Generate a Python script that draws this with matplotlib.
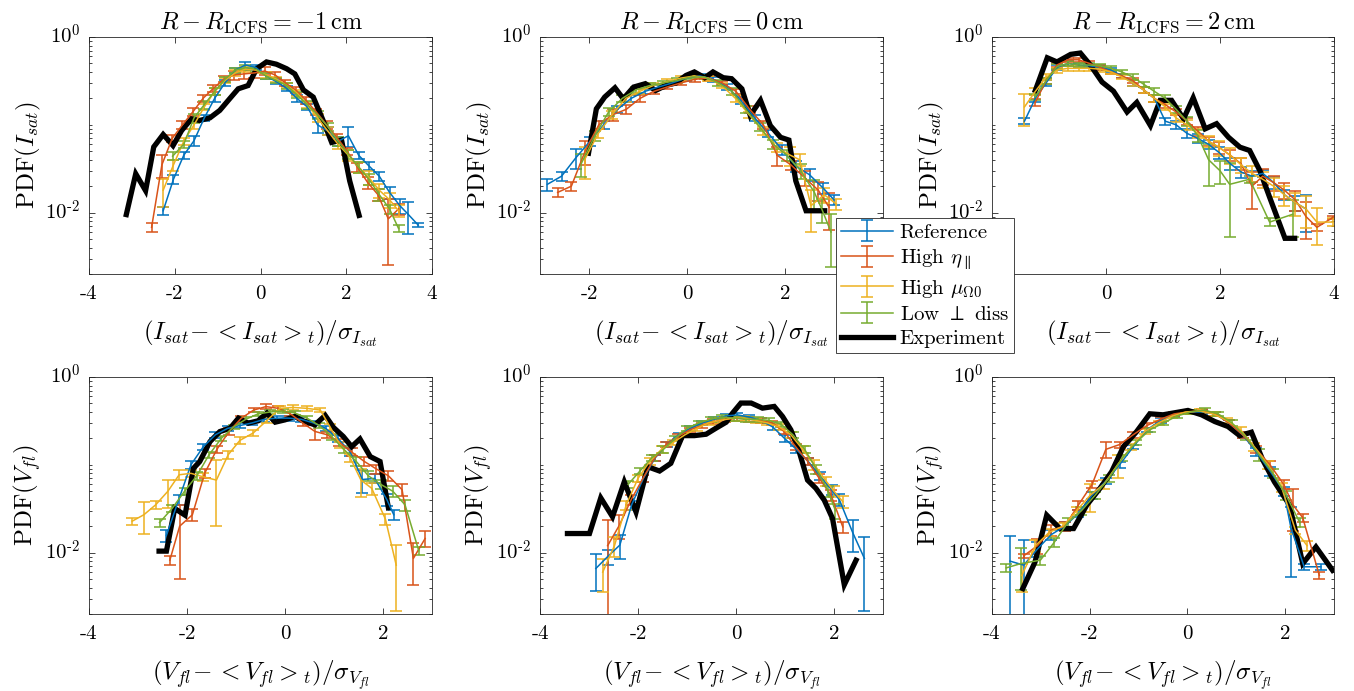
import numpy as np
import matplotlib
matplotlib.use('Agg')
import matplotlib.pyplot as plt
from matplotlib.ticker import FixedLocator, FixedFormatter, NullFormatter
from matplotlib.transforms import ScaledTranslation

plt.rcParams['font.family'] = 'cmr10'
plt.rcParams['mathtext.fontset'] = 'cm'
plt.rcParams['axes.formatter.use_mathtext'] = True

series_names = ['Reference', r'High $\eta_\parallel$', r'High $\mu_{\Omega0}$', r'Low $\perp$ diss']
exp_name = 'Experiment'
colors = ['#0072BD', '#D95319', '#EDB120', '#77AC30']
titles = [r'$R-R_{\mathrm{LCFS}}=-1\,\mathrm{cm}$', r'$R-R_{\mathrm{LCFS}}=0\,\mathrm{cm}$', r'$R-R_{\mathrm{LCFS}}=2\,\mathrm{cm}$']
xlabel_top = r'$(I_{sat}\!-<I_{sat}>_t)/\sigma_{I_{sat}}$'
xlabel_bot = r'$(V_{fl}\!-<V_{fl}>_t)/\sigma_{V_{fl}}$'
ylabel_top = r'PDF$(I_{sat})$'
ylabel_bot = r'PDF$(V_{fl})$'
xlims = [(-4, 4), (-3, 4), (-2, 4), (-4, 3), (-4, 3), (-4, 3)]

# ---------------- Panel 1: I_sat, R-R_LCFS = -1 cm ----------------
p1_exp_x = [-3.13, -2.91, -2.68, -2.49, -2.27, -2.04, -1.84, -1.61, -1.42, -1.18, -0.95, -0.72, -0.52, -0.29, -0.09, 0.14, 0.37, 0.61, 0.80, 1.00, 1.23, 1.46, 1.66, 1.89, 2.08, 2.30]
p1_exp_y = [0.0095, 0.0277, 0.0178, 0.056, 0.0776, 0.058, 0.086, 0.117, 0.112, 0.12, 0.146, 0.198, 0.257, 0.28, 0.435, 0.52, 0.49, 0.435, 0.38, 0.25, 0.207, 0.112, 0.063, 0.067, 0.023, 0.0093]
p1_ref_x = [-2.27, -2.03, -1.79, -1.55, -1.31, -1.07, -0.83, -0.59, -0.35, -0.11, 0.13, 0.37, 0.61, 0.85, 1.09, 1.33, 1.57, 1.81, 2.05, 2.29, 2.53, 2.77, 3.01, 3.25, 3.45, 3.68]
p1_ref_y = [0.0105, 0.024, 0.045, 0.066, 0.12, 0.2, 0.3, 0.42, 0.48, 0.45, 0.36, 0.31, 0.26, 0.2, 0.16, 0.1, 0.085, 0.065, 0.075, 0.045, 0.034, 0.026, 0.017, 0.012, 0.0095, 0.0072]
p1_ref_e = [0.1, 0.12, 0.1, 0.12, 0.08, 0.08, 0.08, 0.07, 0.07, 0.07, 0.07, 0.07, 0.07, 0.08, 0.08, 0.2, 0.1, 0.12, 0.25, 0.1, 0.1, 0.12, 0.15, 0.2, 0.4, 0.05]
p1_eta_x = [-2.54, -2.3, -2.06, -1.82, -1.58, -1.34, -1.1, -0.86, -0.62, -0.38, -0.14, 0.1, 0.34, 0.58, 0.82, 1.06, 1.3, 1.54, 1.78, 2.02, 2.26, 2.5, 2.74, 2.98, 3.22]
p1_eta_y = [0.0068, 0.035, 0.07, 0.1, 0.14, 0.2, 0.26, 0.33, 0.37, 0.38, 0.39, 0.41, 0.37, 0.3, 0.25, 0.19, 0.14, 0.1, 0.072, 0.05, 0.033, 0.022, 0.016, 0.0085, 0.011]
p1_eta_e = [0.12, 0.3, 0.1, 0.1, 0.1, 0.1, 0.08, 0.08, 0.12, 0.12, 0.12, 0.1, 0.08, 0.08, 0.08, 0.08, 0.08, 0.1, 0.1, 0.1, 0.12, 0.15, 0.15, 0.7, 0.15]
p1_mu_x = [-2.27, -2.03, -1.79, -1.55, -1.31, -1.07, -0.83, -0.59, -0.35, -0.11, 0.13, 0.37, 0.61, 0.85, 1.09, 1.33, 1.57, 1.81, 2.05, 2.29, 2.53, 2.77, 3.01, 3.22]
p1_mu_y = [0.018, 0.035, 0.065, 0.1, 0.16, 0.24, 0.32, 0.39, 0.43, 0.42, 0.37, 0.33, 0.28, 0.23, 0.17, 0.12, 0.085, 0.06, 0.045, 0.033, 0.025, 0.018, 0.014, 0.0105]
p1_mu_e = [0.35, 0.15, 0.1, 0.1, 0.08, 0.08, 0.07, 0.07, 0.07, 0.07, 0.07, 0.07, 0.07, 0.08, 0.08, 0.1, 0.1, 0.12, 0.15, 0.15, 0.18, 0.18, 0.2, 0.15]
p1_low_x = [-2.05, -1.79, -1.55, -1.31, -1.07, -0.83, -0.59, -0.35, -0.11, 0.13, 0.37, 0.61, 0.85, 1.09, 1.33, 1.57, 1.81, 2.05, 2.29, 2.53, 2.77, 3.01, 3.22]
p1_low_y = [0.044, 0.06, 0.12, 0.17, 0.24, 0.33, 0.42, 0.45, 0.43, 0.36, 0.32, 0.28, 0.22, 0.17, 0.13, 0.095, 0.065, 0.046, 0.033, 0.024, 0.016, 0.011, 0.0066]
p1_low_e = [0.1, 0.1, 0.12, 0.1, 0.08, 0.07, 0.07, 0.07, 0.07, 0.07, 0.07, 0.08, 0.08, 0.1, 0.1, 0.1, 0.12, 0.12, 0.15, 0.15, 0.15, 0.12, 0.1]

# ---------------- Panel 2: I_sat, R-R_LCFS = 0 cm ----------------
p2_exp_x = [-2.01, -1.85, -1.68, -1.47, -1.30, -1.09, -0.85, -0.64, -0.43, -0.23, -0.02, 0.15, 0.36, 0.53, 0.74, 0.91, 1.12, 1.29, 1.50, 1.70, 1.91, 2.08, 2.22, 2.43, 2.81]
p2_exp_y = [0.0475, 0.152, 0.207, 0.264, 0.198, 0.269, 0.294, 0.246, 0.281, 0.299, 0.365, 0.40, 0.344, 0.40, 0.344, 0.335, 0.257, 0.128, 0.19, 0.098, 0.072, 0.067, 0.023, 0.0105, 0.0105]
p2_ref_x = [-2.85, -2.56, -2.27, -1.98, -1.7, -1.42, -1.14, -0.86, -0.58, -0.3, -0.02, 0.26, 0.54, 0.82, 1.1, 1.38, 1.66, 1.94, 2.22, 2.5, 2.78, 3.0]
p2_ref_y = [0.021, 0.026, 0.042, 0.065, 0.1, 0.15, 0.2, 0.24, 0.27, 0.3, 0.34, 0.36, 0.33, 0.27, 0.19, 0.12, 0.08, 0.052, 0.034, 0.027, 0.019, 0.014]
p2_ref_e = [0.15, 0.12, 0.25, 0.12, 0.1, 0.08, 0.08, 0.07, 0.06, 0.06, 0.06, 0.06, 0.06, 0.07, 0.08, 0.08, 0.1, 0.12, 0.15, 0.15, 0.15, 0.12]
p2_eta_x = [-2.64, -2.36, -2.08, -1.8, -1.52, -1.24, -0.96, -0.68, -0.4, -0.12, 0.16, 0.44, 0.72, 1.0, 1.28, 1.56, 1.84, 2.12, 2.4, 2.68, 2.9]
p2_eta_y = [0.017, 0.02, 0.05, 0.1, 0.13, 0.15, 0.2, 0.24, 0.27, 0.3, 0.33, 0.34, 0.3, 0.24, 0.15, 0.1, 0.045, 0.035, 0.025, 0.018, 0.0115]
p2_eta_e = [0.12, 0.12, 0.3, 0.1, 0.15, 0.12, 0.08, 0.07, 0.06, 0.06, 0.06, 0.06, 0.06, 0.07, 0.08, 0.1, 0.25, 0.12, 0.2, 0.25, 0.45]
p2_mu_x = [-2.09, -1.81, -1.53, -1.25, -0.97, -0.69, -0.41, -0.13, 0.15, 0.43, 0.71, 0.99, 1.27, 1.55, 1.83, 2.11, 2.3, 2.53, 2.8, 3.05]
p2_mu_y = [0.04, 0.08, 0.13, 0.2, 0.24, 0.28, 0.31, 0.34, 0.36, 0.34, 0.28, 0.2, 0.13, 0.085, 0.055, 0.045, 0.04, 0.012, 0.016, 0.0125]
p2_mu_e = [0.4, 0.12, 0.1, 0.08, 0.07, 0.06, 0.06, 0.06, 0.06, 0.06, 0.07, 0.08, 0.08, 0.1, 0.12, 0.25, 0.15, 0.5, 0.2, 0.15]
p2_low_x = [-2.16, -1.88, -1.6, -1.32, -1.04, -0.76, -0.48, -0.2, 0.08, 0.36, 0.64, 0.92, 1.2, 1.48, 1.76, 2.04, 2.32, 2.6, 2.75, 2.94]
p2_low_y = [0.036, 0.075, 0.14, 0.2, 0.25, 0.28, 0.3, 0.32, 0.35, 0.35, 0.3, 0.24, 0.15, 0.095, 0.06, 0.045, 0.03, 0.017, 0.011, 0.006]
p2_low_e = [0.3, 0.12, 0.1, 0.08, 0.07, 0.06, 0.06, 0.06, 0.06, 0.06, 0.07, 0.08, 0.08, 0.1, 0.12, 0.15, 0.2, 0.4, 0.3, 0.6]

# ---------------- Panel 3: I_sat, R-R_LCFS = 2 cm ----------------
p3_exp_x = [-1.24, -1.03, -0.86, -0.62, -0.45, -0.27, -0.07, 0.13, 0.37, 0.54, 0.78, 0.95, 1.15, 1.36, 1.53, 1.74, 1.94, 2.15, 2.35, 2.52, 2.70, 2.87, 3.14, 3.31]
p3_exp_y = [0.246, 0.58, 0.52, 0.634, 0.657, 0.475, 0.307, 0.242, 0.14, 0.18, 0.098, 0.19, 0.19, 0.117, 0.203, 0.09, 0.103, 0.072, 0.0556, 0.051, 0.030, 0.015, 0.0051, 0.0051]
p3_ref_x = [-1.43, -1.24, -1.05, -0.86, -0.67, -0.48, -0.29, -0.1, 0.09, 0.28, 0.47, 0.66, 0.85, 1.04, 1.23, 1.42, 1.61, 1.8, 1.99, 2.18, 2.37, 2.56, 2.75, 2.94, 3.13, 3.32, 3.51]
p3_ref_y = [0.11, 0.2, 0.3, 0.45, 0.5, 0.48, 0.47, 0.45, 0.42, 0.36, 0.3, 0.25, 0.2, 0.11, 0.1, 0.08, 0.07, 0.06, 0.048, 0.036, 0.029, 0.026, 0.028, 0.022, 0.016, 0.013, 0.011]
p3_ref_e = [0.08, 0.08, 0.07, 0.06, 0.06, 0.06, 0.06, 0.06, 0.06, 0.06, 0.07, 0.07, 0.08, 0.1, 0.1, 0.12, 0.12, 0.12, 0.15, 0.15, 0.15, 0.15, 0.1, 0.15, 0.12, 0.2, 0.45]
p3_eta_x = [-1.24, -1.05, -0.86, -0.67, -0.48, -0.29, -0.1, 0.09, 0.28, 0.47, 0.66, 0.85, 1.04, 1.23, 1.42, 1.61, 1.8, 1.99, 2.18, 2.37, 2.56, 2.75, 2.94, 3.13, 3.32, 3.51, 3.7, 3.98]
p3_eta_y = [0.18, 0.32, 0.48, 0.55, 0.55, 0.5, 0.45, 0.4, 0.36, 0.32, 0.25, 0.2, 0.17, 0.14, 0.11, 0.085, 0.065, 0.055, 0.045, 0.036, 0.02, 0.026, 0.022, 0.018, 0.014, 0.009, 0.0068, 0.0088]
p3_eta_e = [0.08, 0.08, 0.06, 0.06, 0.06, 0.06, 0.06, 0.06, 0.06, 0.07, 0.07, 0.08, 0.08, 0.08, 0.1, 0.12, 0.12, 0.15, 0.15, 0.15, 0.45, 0.2, 0.2, 0.2, 0.25, 0.45, 0.1, 0.05]
p3_mu_x = [-1.43, -1.24, -1.05, -0.86, -0.67, -0.48, -0.29, -0.1, 0.09, 0.28, 0.47, 0.66, 0.85, 1.04, 1.23, 1.42, 1.61, 1.8, 1.99, 2.18, 2.37, 2.56, 2.75, 2.94, 3.13, 3.32, 3.51, 3.7, 3.98]
p3_mu_y = [0.16, 0.24, 0.35, 0.42, 0.44, 0.44, 0.44, 0.43, 0.4, 0.35, 0.3, 0.25, 0.2, 0.16, 0.12, 0.1, 0.08, 0.065, 0.055, 0.045, 0.035, 0.028, 0.024, 0.02, 0.016, 0.013, 0.011, 0.0078, 0.0078]
p3_mu_e = [0.4, 0.1, 0.08, 0.07, 0.06, 0.06, 0.06, 0.06, 0.06, 0.06, 0.07, 0.07, 0.08, 0.08, 0.1, 0.12, 0.12, 0.15, 0.2, 0.2, 0.2, 0.2, 0.2, 0.25, 0.25, 0.3, 0.4, 0.45, 0.1]
p3_low_x = [-1.24, -1.05, -0.86, -0.67, -0.48, -0.29, -0.1, 0.09, 0.28, 0.47, 0.66, 0.85, 1.04, 1.23, 1.42, 1.61, 1.8, 2.0, 2.17, 2.52, 2.87, 3.28]
p3_low_y = [0.21, 0.32, 0.46, 0.5, 0.48, 0.48, 0.47, 0.44, 0.4, 0.35, 0.29, 0.24, 0.2, 0.15, 0.11, 0.075, 0.04, 0.03, 0.021, 0.024, 0.0078, 0.0096]
p3_low_e = [0.08, 0.08, 0.06, 0.06, 0.06, 0.06, 0.06, 0.06, 0.06, 0.07, 0.07, 0.08, 0.08, 0.1, 0.12, 0.15, 0.5, 0.3, 0.75, 0.1, 0.1, 0.45]

# ---------------- Panel 4: V_fl, R-R_LCFS = -1 cm ----------------
p4_exp_x = [-2.57, -2.42, -2.25, -2.04, -1.87, -1.74, -1.53, -1.33, -1.12, -0.95, -0.75, -0.55, -0.37, -0.20, 0.0, 0.20, 0.37, 0.61, 0.82, 0.99, 1.19, 1.36, 1.53, 1.74, 1.94, 2.11]
p4_exp_y = [0.0104, 0.0104, 0.0318, 0.0267, 0.091, 0.109, 0.184, 0.239, 0.261, 0.34, 0.298, 0.317, 0.388, 0.306, 0.325, 0.355, 0.317, 0.285, 0.365, 0.266, 0.21, 0.161, 0.197, 0.124, 0.109, 0.0324]
p4_ref_x = [-2.42, -2.17, -1.92, -1.67, -1.42, -1.17, -0.92, -0.67, -0.42, -0.17, 0.08, 0.33, 0.58, 0.83, 1.08, 1.33, 1.58, 1.83, 2.08, 2.22]
p4_ref_y = [0.0157, 0.04, 0.1, 0.16, 0.22, 0.26, 0.28, 0.3, 0.33, 0.34, 0.34, 0.33, 0.3, 0.26, 0.2, 0.14, 0.068, 0.07, 0.04, 0.027]
p4_ref_e = [0.15, 0.12, 0.1, 0.08, 0.07, 0.06, 0.06, 0.06, 0.06, 0.06, 0.06, 0.06, 0.06, 0.07, 0.08, 0.1, 0.3, 0.12, 0.15, 0.12]
p4_eta_x = [-2.35, -2.15, -1.89, -1.64, -1.39, -1.14, -0.89, -0.64, -0.39, -0.14, 0.11, 0.36, 0.61, 0.86, 1.11, 1.36, 1.61, 1.86, 2.11, 2.39, 2.62, 2.86]
p4_eta_y = [0.0082, 0.02, 0.027, 0.08, 0.15, 0.24, 0.34, 0.42, 0.46, 0.44, 0.38, 0.3, 0.24, 0.22, 0.18, 0.14, 0.11, 0.09, 0.075, 0.052, 0.0086, 0.0145]
p4_eta_e = [0.12, 0.75, 0.15, 0.12, 0.1, 0.08, 0.07, 0.06, 0.06, 0.06, 0.06, 0.07, 0.2, 0.08, 0.1, 0.1, 0.12, 0.12, 0.12, 0.15, 0.5, 0.2]
p4_mu_x = [-3.12, -2.88, -2.64, -2.39, -2.16, -1.92, -1.67, -1.4, -1.16, -0.92, -0.65, -0.37, -0.1, 0.17, 0.44, 0.72, 0.92, 1.12, 1.33, 1.55, 1.77, 2.05, 2.27]
p4_mu_y = [0.0228, 0.027, 0.035, 0.05, 0.077, 0.08, 0.073, 0.067, 0.13, 0.19, 0.23, 0.32, 0.44, 0.45, 0.44, 0.42, 0.27, 0.17, 0.12, 0.067, 0.054, 0.024, 0.0072]
p4_mu_e = [0.1, 0.4, 0.1, 0.35, 0.12, 0.1, 0.1, 0.7, 0.1, 0.08, 0.07, 0.06, 0.06, 0.06, 0.06, 0.06, 0.07, 0.08, 0.1, 0.35, 0.15, 0.15, 0.7]
p4_low_x = [-2.56, -2.3, -2.05, -1.8, -1.55, -1.3, -1.05, -0.8, -0.55, -0.3, -0.05, 0.2, 0.45, 0.7, 0.95, 1.2, 1.45, 1.7, 1.95, 2.2, 2.45, 2.73]
p4_low_y = [0.022, 0.032, 0.05, 0.075, 0.13, 0.2, 0.27, 0.33, 0.38, 0.4, 0.41, 0.39, 0.34, 0.28, 0.21, 0.15, 0.11, 0.075, 0.06, 0.05, 0.035, 0.0105]
p4_low_e = [0.1, 0.1, 0.1, 0.1, 0.08, 0.07, 0.06, 0.06, 0.06, 0.06, 0.06, 0.06, 0.06, 0.07, 0.08, 0.1, 0.12, 0.12, 0.12, 0.15, 0.15, 0.1]

# ---------------- Panel 5: V_fl, R-R_LCFS = 0 cm ----------------
p5_exp_x = [-3.44, -2.99, -2.76, -2.52, -2.28, -2.04, -1.80, -1.56, -1.33, -1.09, -0.85, -0.61, -0.41, -0.20, -0.07, 0.10, 0.31, 0.54, 0.78, 0.95, 1.12, 1.29, 1.46, 1.63, 1.80, 1.97, 2.21, 2.45]
p5_exp_y = [0.0165, 0.0165, 0.042, 0.0256, 0.064, 0.029, 0.095, 0.085, 0.104, 0.215, 0.215, 0.223, 0.261, 0.306, 0.388, 0.505, 0.505, 0.442, 0.462, 0.355, 0.25, 0.141, 0.067, 0.054, 0.0397, 0.0245, 0.0043, 0.0082]
p5_ref_x = [-2.86, -2.62, -2.37, -2.13, -1.89, -1.65, -1.41, -1.17, -0.93, -0.69, -0.45, -0.21, 0.03, 0.27, 0.51, 0.75, 0.99, 1.23, 1.47, 1.71, 1.95, 2.11, 2.38, 2.62]
p5_ref_y = [0.0066, 0.009, 0.0122, 0.035, 0.07, 0.12, 0.17, 0.22, 0.26, 0.3, 0.33, 0.36, 0.37, 0.35, 0.32, 0.27, 0.2, 0.15, 0.11, 0.075, 0.052, 0.04, 0.017, 0.0086]
p5_ref_e = [0.45, 0.2, 0.3, 0.12, 0.1, 0.08, 0.07, 0.06, 0.06, 0.06, 0.06, 0.06, 0.06, 0.06, 0.06, 0.07, 0.08, 0.08, 0.1, 0.1, 0.12, 0.15, 0.4, 0.75]
p5_eta_x = [-2.62, -2.38, -2.14, -1.9, -1.66, -1.42, -1.18, -0.94, -0.7, -0.46, -0.22, 0.02, 0.26, 0.5, 0.74, 0.98, 1.22, 1.46, 1.7, 1.94, 2.18]
p5_eta_y = [0.012, 0.0205, 0.04, 0.07, 0.12, 0.17, 0.21, 0.25, 0.28, 0.31, 0.33, 0.34, 0.33, 0.32, 0.3, 0.24, 0.16, 0.11, 0.07, 0.045, 0.0196]
p5_eta_e = [0.95, 0.3, 0.12, 0.1, 0.08, 0.07, 0.06, 0.06, 0.06, 0.06, 0.06, 0.06, 0.06, 0.06, 0.06, 0.07, 0.08, 0.1, 0.12, 0.15, 0.15]
p5_mu_x = [-2.72, -2.48, -2.24, -2.0, -1.76, -1.52, -1.28, -1.04, -0.8, -0.56, -0.32, -0.08, 0.16, 0.4, 0.64, 0.88, 1.12, 1.36, 1.6, 1.84, 2.0, 2.18]
p5_mu_y = [0.006, 0.012, 0.035, 0.07, 0.11, 0.15, 0.18, 0.22, 0.26, 0.3, 0.32, 0.34, 0.34, 0.32, 0.3, 0.27, 0.22, 0.15, 0.1, 0.065, 0.05, 0.038]
p5_mu_e = [0.4, 0.25, 0.12, 0.1, 0.1, 0.08, 0.07, 0.06, 0.06, 0.06, 0.06, 0.06, 0.06, 0.06, 0.06, 0.07, 0.08, 0.1, 0.12, 0.12, 0.15, 0.15]
p5_low_x = [-2.2, -1.96, -1.72, -1.48, -1.24, -1.0, -0.76, -0.52, -0.28, -0.04, 0.2, 0.44, 0.68, 0.92, 1.16, 1.4, 1.64, 1.88, 2.03]
p5_low_y = [0.06, 0.085, 0.12, 0.15, 0.2, 0.26, 0.3, 0.33, 0.35, 0.34, 0.33, 0.33, 0.32, 0.29, 0.22, 0.15, 0.09, 0.05, 0.03]
p5_low_e = [0.1, 0.08, 0.08, 0.08, 0.07, 0.06, 0.06, 0.06, 0.06, 0.06, 0.06, 0.06, 0.07, 0.07, 0.08, 0.1, 0.12, 0.15, 0.2]

# ---------------- Panel 6: V_fl, R-R_LCFS = 2 cm ----------------
p6_exp_x = [-3.37, -3.12, -2.88, -2.61, -2.33, -2.06, -1.79, -1.55, -1.31, -1.04, -0.77, -0.50, -0.22, 0.01, 0.29, 0.56, 0.83, 1.07, 1.31, 1.54, 1.78, 2.09, 2.36, 2.63, 2.97]
p6_exp_y = [0.0039, 0.0078, 0.0267, 0.0188, 0.0188, 0.0348, 0.054, 0.0836, 0.161, 0.239, 0.381, 0.371, 0.395, 0.416, 0.371, 0.311, 0.273, 0.215, 0.235, 0.114, 0.064, 0.0348, 0.0075, 0.0116, 0.0063]
p6_ref_x = [-3.63, -3.35, -3.07, -2.79, -2.51, -2.23, -1.95, -1.67, -1.39, -1.11, -0.83, -0.55, -0.27, 0.01, 0.29, 0.57, 0.85, 1.13, 1.41, 1.69, 1.97, 2.12, 2.39, 2.73]
p6_ref_y = [0.008, 0.0072, 0.011, 0.016, 0.02, 0.028, 0.045, 0.065, 0.1, 0.16, 0.25, 0.32, 0.37, 0.4, 0.4, 0.38, 0.3, 0.22, 0.14, 0.085, 0.05, 0.019, 0.0069, 0.0069]
p6_ref_e = [0.95, 0.95, 0.2, 0.12, 0.12, 0.1, 0.1, 0.08, 0.07, 0.06, 0.06, 0.06, 0.06, 0.06, 0.06, 0.06, 0.07, 0.08, 0.1, 0.12, 0.12, 0.72, 0.08, 0.08]
p6_eta_x = [-3.35, -3.07, -2.79, -2.51, -2.23, -1.95, -1.67, -1.39, -1.11, -0.83, -0.55, -0.27, 0.01, 0.29, 0.57, 0.85, 1.13, 1.41, 1.69, 1.97, 2.16, 2.36, 2.7]
p6_eta_y = [0.0092, 0.012, 0.018, 0.02, 0.035, 0.06, 0.15, 0.17, 0.22, 0.28, 0.33, 0.38, 0.4, 0.41, 0.38, 0.3, 0.22, 0.15, 0.1, 0.06, 0.035, 0.025, 0.0055]
p6_eta_e = [0.05, 0.2, 0.15, 0.12, 0.12, 0.1, 0.2, 0.08, 0.07, 0.06, 0.06, 0.06, 0.06, 0.06, 0.06, 0.07, 0.08, 0.1, 0.1, 0.12, 0.5, 0.1, 0.08]
p6_mu_x = [-3.39, -3.11, -2.83, -2.55, -2.27, -1.99, -1.71, -1.43, -1.15, -0.87, -0.59, -0.31, -0.03, 0.25, 0.53, 0.81, 1.09, 1.37, 1.65, 1.93, 2.21, 2.45]
p6_mu_y = [0.0055, 0.012, 0.017, 0.02, 0.03, 0.045, 0.06, 0.1, 0.16, 0.24, 0.3, 0.36, 0.4, 0.41, 0.38, 0.32, 0.25, 0.16, 0.1, 0.055, 0.018, 0.012]
p6_mu_e = [0.35, 0.15, 0.1, 0.1, 0.1, 0.35, 0.12, 0.3, 0.08, 0.07, 0.06, 0.06, 0.06, 0.06, 0.06, 0.06, 0.07, 0.1, 0.1, 0.12, 0.1, 0.12]
p6_low_x = [-3.71, -3.41, -3.01, -2.73, -2.45, -2.17, -1.89, -1.61, -1.33, -1.05, -0.77, -0.49, -0.21, 0.07, 0.35, 0.63, 0.91, 1.19, 1.47, 1.75, 2.02, 2.3]
p6_low_y = [0.0067, 0.0075, 0.0082, 0.013, 0.022, 0.03, 0.045, 0.07, 0.12, 0.18, 0.25, 0.3, 0.36, 0.4, 0.42, 0.38, 0.3, 0.21, 0.13, 0.08, 0.045, 0.022]
p6_low_e = [0.1, 0.5, 0.12, 0.12, 0.12, 0.1, 0.1, 0.08, 0.07, 0.06, 0.06, 0.06, 0.06, 0.06, 0.06, 0.06, 0.07, 0.08, 0.15, 0.12, 0.12, 0.12]

panels = [
    (p1_exp_x, p1_exp_y, [(p1_ref_x, p1_ref_y, p1_ref_e), (p1_eta_x, p1_eta_y, p1_eta_e), (p1_mu_x, p1_mu_y, p1_mu_e), (p1_low_x, p1_low_y, p1_low_e)]),
    (p2_exp_x, p2_exp_y, [(p2_ref_x, p2_ref_y, p2_ref_e), (p2_eta_x, p2_eta_y, p2_eta_e), (p2_mu_x, p2_mu_y, p2_mu_e), (p2_low_x, p2_low_y, p2_low_e)]),
    (p3_exp_x, p3_exp_y, [(p3_ref_x, p3_ref_y, p3_ref_e), (p3_eta_x, p3_eta_y, p3_eta_e), (p3_mu_x, p3_mu_y, p3_mu_e), (p3_low_x, p3_low_y, p3_low_e)]),
    (p4_exp_x, p4_exp_y, [(p4_ref_x, p4_ref_y, p4_ref_e), (p4_eta_x, p4_eta_y, p4_eta_e), (p4_mu_x, p4_mu_y, p4_mu_e), (p4_low_x, p4_low_y, p4_low_e)]),
    (p5_exp_x, p5_exp_y, [(p5_ref_x, p5_ref_y, p5_ref_e), (p5_eta_x, p5_eta_y, p5_eta_e), (p5_mu_x, p5_mu_y, p5_mu_e), (p5_low_x, p5_low_y, p5_low_e)]),
    (p6_exp_x, p6_exp_y, [(p6_ref_x, p6_ref_y, p6_ref_e), (p6_eta_x, p6_eta_y, p6_eta_e), (p6_mu_x, p6_mu_y, p6_mu_e), (p6_low_x, p6_low_y, p6_low_e)]),
]

W, H = 1354, 691
fig = plt.figure(figsize=(W / 100, H / 100), dpi=100)
col_left = [89, 540, 992]
col_w = [343, 343, 342]
row_top = [37, 377]
ax_h = 237

major_y = [1e-2, 1e0]
minor_y = [k * 10.0 ** p for p in (-3, -2, -1) for k in range(1, 10) if not (k == 1 and p == -2)]
label_shift = ScaledTranslation(0, 2.4 / 72, fig.dpi_scale_trans)
handles = []
for i, (ex, ey, sims) in enumerate(panels):
    r, c = divmod(i, 3)
    ax = fig.add_axes([col_left[c] / W, 1 - (row_top[r] + ax_h) / H, col_w[c] / W, ax_h / H])
    ax.set_yscale('log')
    hs = []
    for (sx, sy, se), col in zip(sims, colors):
        sy = np.asarray(sy)
        yerr = np.asarray(se) * sy
        h = ax.errorbar(sx, sy, yerr=yerr, color=col, lw=1.1, elinewidth=1.1,
                        capsize=4, capthick=1.1)
        hs.append(h)
    he, = ax.plot(ex, ey, color='k', lw=3.8, solid_joinstyle='miter')
    hs.append(he)
    if i == 0:
        handles = hs
    ax.set_xlim(*xlims[i])
    ax.set_ylim(0.002, 1)
    xt = [t for t in (-4, -2, 0, 2, 4) if xlims[i][0] <= t <= xlims[i][1]]
    ax.xaxis.set_major_locator(FixedLocator(xt))
    ax.xaxis.set_major_formatter(FixedFormatter([str(t) for t in xt]))
    ax.yaxis.set_major_locator(FixedLocator(major_y))
    ax.yaxis.set_major_formatter(FixedFormatter([r'10$^{\text{-2}}$', r'10$^{0}$']))
    ax.yaxis.set_minor_locator(FixedLocator(minor_y))
    ax.yaxis.set_minor_formatter(NullFormatter())
    ax.tick_params(which='both', direction='in', top=True, right=True, width=0.6,
                   colors='0.15', labelcolor='k', labelsize=15)
    ax.tick_params(axis='x', which='major', length=4, pad=8)
    ax.tick_params(axis='y', which='major', length=4, pad=6)
    ax.tick_params(which='minor', length=2.2)
    for tk in ax.yaxis.get_major_ticks():
        tk.label1.set_transform(tk.label1.get_transform() + label_shift)
    for s in ax.spines.values():
        s.set_linewidth(0.6)
        s.set_color('0.15')
    if r == 0:
        ax.set_title(titles[c], fontsize=17.5, pad=6)
        ax.set_xlabel(xlabel_top, fontsize=18, labelpad=11)
        ax.set_ylabel(ylabel_top, fontsize=18, labelpad=2)
    else:
        ax.set_xlabel(xlabel_bot, fontsize=18, labelpad=11)
        ax.set_ylabel(ylabel_bot, fontsize=18, labelpad=2)

leg = fig.legend(handles, series_names + [exp_name], loc='upper left',
                 bbox_to_anchor=(836 / W, 1 - 218 / H), borderaxespad=0,
                 frameon=True, fancybox=False, edgecolor='0.15', framealpha=1,
                 fontsize=15, handlelength=2.5, handletextpad=0.3,
                 borderpad=0.25, labelspacing=0.27)
leg.get_frame().set_linewidth(0.6)

fig.savefig('out.png', dpi=100)
